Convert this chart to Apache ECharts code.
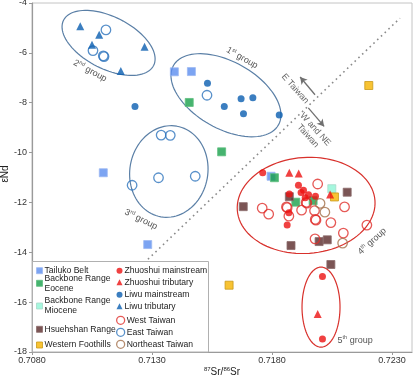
<!DOCTYPE html>
<html><head><meta charset="utf-8">
<script src="https://cdn.jsdelivr.net/npm/echarts@6/dist/echarts.min.js"></script>
<style>html,body{margin:0;padding:0;background:#fff}#c{width:417px;height:378px}</style>
</head><body><div id="c"></div>
<script>
// ---------- data ----------
const xTicks = [0.7080, 0.7130, 0.7180, 0.7230];
const yTicks = [-18, -16, -14, -12, -10, -8, -6, -4];

const tailukoBelt = [[0.71393,-6.76],[0.71464,-6.75],[0.71097,-10.81],[0.71282,-13.69],[0.71796,-10.95]];
const backboneEocene = [[0.71455,-7.99],[0.71590,-9.97],[0.71810,-11.01],[0.71899,-11.99],[0.71971,-11.93]];
const backboneMiocene = [[0.72049,-11.45]];
const hsuehshanRange = [[0.72113,-11.59],[0.71680,-12.17],[0.71872,-11.77],[0.71996,-13.57],[0.72030,-13.50],[0.71879,-13.73],[0.72045,-14.49]];
const westernFoothills = [[0.72203,-7.31],[0.72060,-11.78],[0.71621,-15.32]];
const zhuoshuiMain = [[0.71761,-10.81],[0.71910,-11.31],[0.71931,-11.51],[0.71921,-11.60],[0.71952,-11.69],[0.71981,-11.75],[0.71872,-11.66],[0.71938,-11.81],[0.71870,-12.41],[0.71863,-12.91],[0.72010,-14.97],[0.72010,-17.48]];
const zhuoshuiTrib = [[0.71872,-10.81],[0.71911,-10.84],[0.72042,-11.68],[0.71990,-16.48]];
const liwuMain = [[0.71531,-7.22],[0.71601,-8.15],[0.71671,-7.84],[0.71720,-7.80],[0.71681,-8.44],[0.71830,-8.49],[0.71229,-8.15]];
const liwuTrib = [[0.71001,-4.93],[0.71080,-5.27],[0.71050,-5.67],[0.71269,-5.75],[0.71170,-6.73]];
const westTaiwan = [[0.71990,-11.26],[0.71759,-12.23],[0.71786,-12.47],[0.71860,-12.18],[0.71863,-12.21],[0.71942,-12.00],[0.71945,-12.03],[0.71980,-12.68],[0.71983,-12.71],[0.71923,-12.31],[0.71977,-12.33],[0.72102,-12.18],[0.72045,-12.81],[0.72195,-12.91],[0.72097,-13.23],[0.71979,-13.46],[0.71870,-12.55]];
const eastTaiwan = [[0.71108,-5.08],[0.71054,-5.91],[0.71097,-6.12],[0.71100,-6.15],[0.71529,-7.70],[0.71338,-9.30],[0.71376,-9.31],[0.71327,-11.01],[0.71480,-10.95],[0.71217,-11.31]];
const northeastTaiwan = [[0.72000,-12.04],[0.72020,-12.39],[0.72094,-13.63]];

// annotations (data coordinates)
const boundaryLine = [[0.71283,-14.28],[0.72333,-4.61]];
const arrowFrom = [[0.71979,-7.68],[0.71951,-8.21]];
const arrowTo = [[0.71917,-6.97],[0.72017,-8.95]];
const groupCenters = [[0.71119,-5.60],[0.71608,-7.70],[0.71370,-10.76],[0.71942,-12.12],[0.72004,-16.20]];
const groupLabelPos = [[0.71042,-6.72],[0.71675,-6.20],[0.71254,-12.68],[0.72217,-13.56],[0.72146,-17.52]];
const groupLabelText = ['2{s|nd} group','1{s|st} group','3{s|rd} group','4{s|th} group','5{s|th} group'];
const sideLabelPos = [[0.71896,-7.44],[0.71965,-9.20]];
const sideLabelText = ['E Taiwan','W and NE\nTaiwan'];

// ---------- styling ----------
const FONT = "'Liberation Sans', Arial, sans-serif";
const ellipseStyle = [ // semi-axes px, rotation deg (screen, clockwise), colour
  {rx:50.4, ry:26.1, rot:26.7, color:'#5a7fa6'},
  {rx:60.3, ry:33.4, rot:29.5, color:'#5a7fa6'},
  {rx:46, ry:39, rot:-80, color:'#5a7fa6'},
  {rx:69, ry:48, rot:-4, color:'#d8312c'},
  {rx:40, ry:19, rot:90, color:'#d8312c'}
];
const groupLabelRot = [28.6, 29.5, 26, -42.7, 0];
const sideLabelRot = [48.5, 48];

const sq = (c, b) => ({color:c, borderColor:b, borderWidth:1});
const open = c => ({color:'rgba(255,255,255,0)', borderColor:c, borderWidth:1.3});
const seriesDefs = [
  {name:'Tailuko Belt', data:tailukoBelt, symbol:'rect', size:8, style:sq('#5b8def','#9cb8f2')},
  {name:'Backbone Range Eocene', data:backboneEocene, symbol:'rect', size:8, style:sq('#18a04b','#5fbf80')},
  {name:'Backbone Range Miocene', data:backboneMiocene, symbol:'rect', size:8, style:sq('#8ff5d6','#a9d9c9')},
  {name:'Hsuehshan Range', data:hsuehshanRange, symbol:'rect', size:8, style:sq('#5a2a2a','#8c6d6d')},
  {name:'Western Foothills', data:westernFoothills, symbol:'rect', size:8, style:sq('#f6b400','#c99a1a')},
  {name:'West Taiwan', data:westTaiwan, symbol:'circle', size:9.5, style:open('#e0302c')},
  {name:'East Taiwan', data:eastTaiwan, symbol:'circle', size:9.5, style:open('#2e74bd')},
  {name:'Northeast Taiwan', data:northeastTaiwan, symbol:'circle', size:9.5, style:open('#a4714b')},
  {name:'Zhuoshui mainstream', data:zhuoshuiMain, symbol:'circle', size:7, style:{color:'#ec1111'}},
  {name:'Zhuoshui tributary', data:zhuoshuiTrib, symbol:'triangle', size:8, style:{color:'#ec1111'}},
  {name:'Liwu mainstream', data:liwuMain, symbol:'circle', size:7, style:{color:'#0a5eb0'}},
  {name:'Liwu tributary', data:liwuTrib, symbol:'triangle', size:8, style:{color:'#0a5eb0'}}
];

// legend layout: [name, left, top, icon, w, h, twoLine]
const legendLayout = [
  ['Tailuko Belt', 36, 265.7, 'rect', 6, 6, false],
  ['Backbone Range Eocene', 36, 268.3, 'rect', 6, 6, true],
  ['Backbone Range Miocene', 36, 291, 'rect', 6, 6, true],
  ['Hsuehshan Range', 36, 324.3, 'rect', 6, 6, false],
  ['Western Foothills', 36, 340, 'rect', 6, 6, false],
  ['Zhuoshui mainstream', 116.5, 265.7, 'circle', 6, 6, false],
  ['Zhuoshui tributary', 116.5, 277.3, 'triangle', 6, 6, false],
  ['Liwu mainstream', 116.5, 289.7, 'circle', 6, 6, false],
  ['Liwu tributary', 116.5, 301.3, 'triangle', 6, 6, false],
  ['West Taiwan', 116, 315.3, 'circle', 8, 8, false],
  ['East Taiwan', 116, 327.3, 'circle', 8, 8, false],
  ['Northeast Taiwan', 116, 339.3, 'circle', 8, 8, false]
];

const legends = legendLayout.map(([name, left, top, icon, w, h, two]) => {
  const def = seriesDefs.find(s => s.name === name);
  return {
    left, top, orient:'vertical', padding:0, itemGap:0, itemWidth:w, itemHeight:h,
    selectedMode:false, z:5,
    formatter: n => two ? n.replace(/ (Eocene|Miocene)$/, '\n$1') : n,
    textStyle:{fontFamily:FONT, fontSize:8.6, color:'#222', lineHeight:10, padding: two ? [10,0,0,-3] : [0,0,0,-3]},
    data:[{name, icon, itemStyle: Object.assign({}, def.style, def.style.borderWidth > 1 ? {color:'#fff'} : {})}]
  };
});

const chart = echarts.init(document.getElementById('c'), null, {renderer:'canvas'});

const scatterSeries = seriesDefs.map(s => ({
  type:'scatter', name:s.name, data:s.data, symbol:s.symbol, symbolSize:s.size,
  itemStyle:s.style, z:3, silent:true
}));

const ellipseSeries = {
  type:'custom', name:'groups', silent:true, z:2, data:groupCenters,
  encode:{x:0, y:1},
  renderItem:(params, api) => {
    const e = ellipseStyle[params.dataIndex];
    const c = api.coord([api.value(0), api.value(1)]);
    const t = e.rot * Math.PI / 180, pts = [];
    for (let i = 0; i <= 96; i++) {
      const a = i / 96 * Math.PI * 2;
      const ex = e.rx * Math.cos(a), ey = e.ry * Math.sin(a);
      pts.push([c[0] + ex * Math.cos(t) - ey * Math.sin(t), c[1] + ex * Math.sin(t) + ey * Math.cos(t)]);
    }
    return {type:'polyline', shape:{points:pts}, style:{stroke:e.color, lineWidth:1.2, fill:null}};
  }
};

const textRich = {s:{fontSize:5.5, verticalAlign:'top', lineHeight:11, fill:'#555', fontFamily:FONT}};
const groupLabelSeries = {
  type:'custom', name:'grouplabels', silent:true, z:4, data:groupLabelPos,
  encode:{x:0, y:1},
  renderItem:(params, api) => {
    const i = params.dataIndex;
    const c = api.coord([api.value(0), api.value(1)]);
    return {type:'text', x:c[0], y:c[1], rotation:-groupLabelRot[i] * Math.PI / 180,
      style:{text:groupLabelText[i], align:'center', verticalAlign:'middle', fontSize:9, lineHeight:11,
        fill:'#555', fontFamily:FONT, rich:textRich}};
  }
};
const sideLabelSeries = {
  type:'custom', name:'sidelabels', silent:true, z:4, data:sideLabelPos,
  encode:{x:0, y:1},
  renderItem:(params, api) => {
    const i = params.dataIndex;
    const c = api.coord([api.value(0), api.value(1)]);
    return {type:'text', x:c[0], y:c[1], rotation:-sideLabelRot[i] * Math.PI / 180,
      style:{text:sideLabelText[i], align:'center', verticalAlign:'middle', fontSize:9, lineHeight:10,
        fill:'#666', fontFamily:FONT}};
  }
};

const lineSeries = {
  type:'line', name:'boundary', data:boundaryLine, symbol:'none', silent:true, z:1,
  lineStyle:{color:'#8a8a8a', width:1.6, type:[1.6,3.6]},
  markLine:{silent:true, symbol:['none','arrow'], symbolSize:[6,7], animation:false,
    lineStyle:{color:'#707070', width:1.3, type:'solid'}, label:{show:false},
    data: arrowFrom.map((f, i) => [{coord:f}, {coord:arrowTo[i]}])}
};

chart.setOption({
  animation:false,
  backgroundColor:'#fff',
  textStyle:{fontFamily:FONT},
  grid:{left:32, top:3, right:5, bottom:26, show:true, borderColor:'#c4c4c4', borderWidth:1, backgroundColor:'transparent',
    containLabel:false, outerBoundsMode:'none'},
  xAxis:{type:'value', min:xTicks[0], max:0.72383, interval:xTicks[1]-xTicks[0],
    name:'{s|87}Sr/{s|86}Sr', nameLocation:'middle', nameGap:14, nameMoveOverlap:false,
    nameTextStyle:{fontSize:10, color:'#222', fontFamily:FONT, rich:{s:{fontSize:6, verticalAlign:'top', lineHeight:12, fontFamily:FONT, color:'#222'}}},
    axisLine:{lineStyle:{color:'#9a9a9a', width:1.2}}, axisTick:{show:true, length:3, lineStyle:{color:'#9a9a9a'}},
    axisLabel:{fontSize:9, color:'#333', margin:4, formatter:v => v.toFixed(4)}, splitLine:{show:false}},
  yAxis:{type:'value', min:yTicks[0], max:yTicks[yTicks.length-1], interval:2,
    name:'εNd', nameLocation:'middle', nameGap:22, nameMoveOverlap:false,
    nameTextStyle:{fontSize:10, color:'#222', fontFamily:FONT, padding:[0,0,0,7]},
    axisLine:{show:true, lineStyle:{color:'#9a9a9a', width:1.2}}, axisTick:{show:true, length:3, lineStyle:{color:'#9a9a9a'}},
    axisLabel:{fontSize:9, color:'#333', margin:5}, splitLine:{show:false}},
  legend: legends,
  graphic:[{type:'rect', z:4, silent:true, shape:{x:32.5, y:261.5, width:176, height:90.5},
    style:{fill:'#fff', stroke:'#b0b0b0', lineWidth:1}}],
  series:[lineSeries, ellipseSeries, ...scatterSeries, groupLabelSeries, sideLabelSeries]
});
</script></body></html>
